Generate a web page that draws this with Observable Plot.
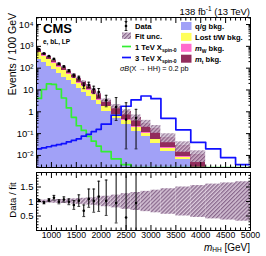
<!DOCTYPE html>
<html><head><meta charset="utf-8">
<script src="https://cdn.jsdelivr.net/npm/d3@7"></script>
<script src="https://cdn.jsdelivr.net/npm/@observablehq/plot@0.6"></script>
<style>
html,body{margin:0;padding:0;background:#fff;}
body{width:266px;height:256px;overflow:hidden;position:relative;}
#main,#ratio{position:absolute;left:0;}
#main{top:0px} #ratio{top:168px}
</style></head><body>
<svg width="0" height="0" style="position:absolute"><defs>
<pattern id="hatch" patternUnits="userSpaceOnUse" width="2.8" height="2.8" patternTransform="rotate(45)">
<rect width="2.8" height="2.8" fill="#dccadc"/>
<line x1="0.7" y1="0" x2="0.7" y2="2.8" stroke="#86658a" stroke-width="1.3"/>
</pattern></defs></svg>
<div id="main"></div><div id="ratio"></div>
<script>
// ---------------- data ----------------
const binEdges = [700,800,900,1000,1100,1200,1300,1400,1500,1600,1700,1800,1900,2000,2200,2400,2600,2800,3000,3200,3500,3800,4100,4400,4700,5000];
// backgrounds (events / 100 GeV)
const qgBkg  = [255,176,122,84,55,38,26.5,17.7,11.2,7.7,5.1,3.4,2.07,1.0,0.47,0.265,0.13,0.072,0.037,0.015,0.0062,0.0016,0,0,0];
const lostTW = [255,176,122,84,53.5,37,25.7,17.2,9.5,6.5,4.3,2.8,1.38,0.66,0.245,0.137,0.06,0.033,0.015,0.006,0.0017,0.0004,0,0,0];
const mWBkg  = [35,24.5,17,11.7,8.1,5.6,3.9,2.6,1.75,1.2,0.8,0.53,0.28,0.13,0.053,0.029,0.017,0.009,0.0034,0.0014,0.0006,0.0001,0,0,0];
const mtBkg  = [163,113,78,54,45.4,31.4,21.9,14.5,12.6,8.6,5.8,3.8,3.17,1.51,0.98,0.549,0.34,0.186,0.114,0.046,0.0195,0.0084,0,0,0];
// relative fit uncertainty
const fitUnc = [0.045,0.05,0.055,0.06,0.065,0.07,0.08,0.09,0.1,0.11,0.12,0.13,0.15,0.18,0.22,0.27,0.31,0.35,0.39,0.44,0.5,0.55,0.6,0.64,0.68];
// signals
const sig1TeV = [4.1,10.5,19,18,11,4.3,1.5,0.56,0.23,0.14,0.075,0.045,0.027,0.015,0.007,0.0038,0.0015,0.0008,0.0005,0.0003,0.0002,0.0001,0.0001,0.0001,0.0001];
const sig3TeV = [0.020,0.022,0.025,0.028,0.031,0.035,0.042,0.049,0.058,0.076,0.093,0.123,0.158,0.27,0.7,1.8,3.5,5.3,4.0,0.5,0.15,0.04,0.02,0.008,0.0038];
// data
const dataMass = [750,850,950,1050,1150,1250,1350,1450,1550,1650,1750,1850,1950,2100,2300,2500,2700];
const dataVal = [729,470,356,264,160,120,77,46,36,16,17,10.7,8.1,3.4,1.66,0.44,0.52];
const dataLo  = [701,451,339,246,149,110,69,38,29,11.5,12.8,6.8,4.7,1.7,0.4,0.02,0.02];
const dataHi  = [758,490,373,283,172,130,85,53,43,21,22.7,14.9,11.7,5.7,4.5,2.6,1.3];
// data / fit
const ratioVal = [1.03,0.96,1.05,1.13,0.99,1.07,0.99,0.88,1.03,0.68,1.09,1.02,1.17,1.02,0.95,0.45,0.95];
const ratioLo  = [0.99,0.92,1.0,1.05,0.92,0.98,0.89,0.73,0.83,0.48,0.8,0.63,0.66,0.52,0.26,0.0,0.0];
const ratioHi  = [1.07,1.0,1.1,1.21,1.06,1.16,1.09,1.03,1.23,0.88,1.43,1.43,1.7,1.74,2.5,2.5,2.5];
// ticks
const xMajor = [1000,1500,2000,2500,3000,3500,4000,4500,5000];
const xLabels = ["1000","1500","2000","2500","3000","3500","4000","4500","5000"];
const yMajor = [1e-2,1e-1,1,10,100,1000,10000];
const yLabels = ["10\u207B\u00B2","10\u207B\u00B9","1","10","10\u00B2","10\u00B3","10\u2074"];
const rMajor = [0.5,1,1.5];
const rLabels = ["0.5","1","1.5"];

// ---------------- build ----------------
const FONT = "'Liberation Sans', Arial, Helvetica, sans-serif";
const C = {qg:"#a1a1f7", tw:"#ffff5a", mw:"#ff6ccc", mt:"#922c5c", s1:"#33ee33", s3:"#1010ff"};
const yMin = 2.8e-3, yMax = 2.1e4;
const nb = binEdges.length - 1;
const bins = binEdges.slice(0, -1).map((lo, i) => {
  const a = qgBkg[i], b = a + lostTW[i], c = b + mWBkg[i], t = c + mtBkg[i];
  return {lo, hi: binEdges[i+1], qg: a, tw: b, mw: c, tot: t, u: fitUnc[i], s1: sig1TeV[i], s3: sig3TeV[i]};
});
const filled = bins.filter(d => d.tot > 0);
const layer = (y1f, y2f, fill) => Plot.rect(filled, {x1: "lo", x2: "hi", y1: y1f, y2: y2f, fill, shapeRendering: "crispEdges", clip: true});
const stepPts = key => bins.map(d => ({x: d.lo, y: Math.max(d[key], yMin)})).concat([{x: binEdges[nb], y: Math.max(bins[nb-1][key], yMin)}]);
const pts = dataMass.map((m, i) => ({m, v: dataVal[i], lo: dataLo[i], hi: dataHi[i], r: ratioVal[i], rlo: ratioLo[i], rhi: ratioHi[i]}));
const capSym = {draw(ctx, size) { ctx.moveTo(-1.4, 0); ctx.lineTo(1.4, 0); }};

const xMinor = d3.range(800, 5000, 100).filter(v => v % 500 !== 0);
const yMinor = [];
for (let e = -3; e <= 4; e++) for (let k = 2; k <= 9; k++) { const v = k * Math.pow(10, e); if (v > yMin && v < yMax) yMinor.push(v); }
const rMinor = d3.range(0.1, 2.0, 0.1).map(v => +v.toFixed(1)).filter(v => ![0.5,1,1.5].includes(v));
const blank = () => "";
const tickAxes = (xa, ya, xm, ym, maj, mnr) => [
  Plot.axisX(xa, {anchor: "bottom", tickSize: -maj, tickFormat: blank, label: null}),
  Plot.axisX(xa, {anchor: "top", tickSize: -maj, tickFormat: blank, label: null}),
  Plot.axisX(xm, {anchor: "bottom", tickSize: -mnr, tickFormat: blank, label: null}),
  Plot.axisX(xm, {anchor: "top", tickSize: -mnr, tickFormat: blank, label: null}),
  Plot.axisY(ya, {anchor: "left", tickSize: -maj, tickFormat: blank, label: null}),
  Plot.axisY(ya, {anchor: "right", tickSize: -maj, tickFormat: blank, label: null}),
  Plot.axisY(ym, {anchor: "left", tickSize: -mnr, tickFormat: blank, label: null}),
  Plot.axisY(ym, {anchor: "right", tickSize: -mnr, tickFormat: blank, label: null})
];

const main = Plot.plot({
  width: 266, height: 170, marginTop: 17, marginBottom: 3, marginLeft: 36, marginRight: 16,
  x: {domain: [700, 5000], axis: null},
  y: {type: "log", domain: [yMin, yMax], axis: null},
  style: {fontFamily: FONT, background: "transparent", color: "black"},
  marks: [
    layer(() => yMin, "qg", C.qg),
    layer("qg", "tw", C.tw),
    layer("tw", "mw", C.mw),
    layer("mw", "tot", C.mt),
    Plot.rect(filled, {x1: "lo", x2: "hi", y1: d => d.tot * (1 - d.u), y2: d => d.tot * (1 + d.u), fill: "url(#hatch)", fillOpacity: 0.85, clip: true}),
    Plot.line(stepPts("s1"), {x: "x", y: "y", curve: "step-after", stroke: C.s1, strokeWidth: 1.7, clip: true}),
    Plot.line(stepPts("s3"), {x: "x", y: "y", curve: "step-after", stroke: C.s3, strokeWidth: 1.7, clip: true}),
    Plot.ruleX(pts, {x: "m", y1: "lo", y2: "hi", stroke: "black", strokeWidth: 1, clip: true}),
    Plot.dot(pts, {x: "m", y: "lo", symbol: capSym, stroke: "black", strokeWidth: 0.8, clip: true}),
    Plot.dot(pts, {x: "m", y: "hi", symbol: capSym, stroke: "black", strokeWidth: 0.8, clip: true}),
    Plot.dot(pts, {x: "m", y: "v", r: 1.3, fill: "black", clip: true}),
    ...tickAxes(xMajor, yMajor, xMinor, yMinor, 5, 2.5),
    Plot.axisY(yMajor, {anchor: "left", tickSize: 0, tickPadding: 3, fontSize: 9.5, tickFormat: d => yLabels[yMajor.indexOf(d)], label: null}),
    Plot.frame({stroke: "black", strokeWidth: 1})
  ]
});

const ratio = Plot.plot({
  width: 266, height: 88, marginTop: 4, marginBottom: 26, marginLeft: 36, marginRight: 16,
  x: {domain: [700, 5000], axis: null},
  y: {domain: [0, 2], axis: null},
  style: {fontFamily: FONT, background: "transparent", color: "black"},
  marks: [
    Plot.rect(bins, {x1: "lo", x2: "hi", y1: d => 1 - d.u, y2: d => 1 + d.u, fill: "url(#hatch)", clip: true}),
    Plot.ruleX(pts, {x: "m", y1: "rlo", y2: "rhi", stroke: "black", strokeWidth: 1, clip: true}),
    Plot.dot(pts, {x: "m", y: "rlo", symbol: capSym, stroke: "black", strokeWidth: 0.8, clip: true}),
    Plot.dot(pts, {x: "m", y: "rhi", symbol: capSym, stroke: "black", strokeWidth: 0.8, clip: true}),
    Plot.dot(pts, {x: "m", y: "r", r: 1.3, fill: "black", clip: true}),
    ...tickAxes(xMajor, [0.5, 1, 1.5], xMinor, rMinor, 5, 2.5),
    Plot.axisY(rMajor, {anchor: "left", tickSize: 0, tickPadding: 3, fontSize: 9.5, tickFormat: d => rLabels[rMajor.indexOf(d)], label: null}),
    Plot.axisX(xMajor, {anchor: "bottom", tickSize: 0, tickPadding: 1.5, fontSize: 8.7, tickFormat: d => xLabels[xMajor.indexOf(d)], label: null}),
    Plot.frame({stroke: "black", strokeWidth: 1})
  ]
});

document.getElementById("main").appendChild(main);
document.getElementById("ratio").appendChild(ratio);

// ---------------- annotations & legend ----------------
const sm = d3.select(main).style("overflow", "visible");
const txt = (sel, x, y, opts = {}) => sel.append("text").attr("x", x).attr("y", y)
  .attr("font-family", FONT).attr("font-size", opts.size || 8).attr("font-weight", opts.weight || "normal")
  .attr("text-anchor", opts.anchor || "start").attr("fill", "black");

txt(sm, 43, 33, {size: 13, weight: "bold"}).text("CMS");
txt(sm, 43, 43.5, {size: 6.5, weight: "bold"}).text("e, bL, LP");
const lum = txt(sm, 250, 14.5, {size: 9.5, anchor: "end"});
lum.append("tspan").text("138 fb");
lum.append("tspan").attr("font-size", 6.5).attr("dy", -3.5).text("-1");
lum.append("tspan").attr("dy", 3.5).text(" (13 TeV)");
txt(sm, 0, 0, {size: 10.5, anchor: "end"}).attr("transform", "translate(16,13) rotate(-90)").text("Events / 100 GeV");

// legend column 1
const LS = 7.6, LW = "bold";
sm.append("line").attr("x1", 126).attr("x2", 126).attr("y1", 21.5).attr("y2", 30.5).attr("stroke", "black");
sm.append("line").attr("x1", 124.6).attr("x2", 127.4).attr("y1", 21.5).attr("y2", 21.5).attr("stroke", "black").attr("stroke-width", 0.8);
sm.append("line").attr("x1", 124.6).attr("x2", 127.4).attr("y1", 30.5).attr("y2", 30.5).attr("stroke", "black").attr("stroke-width", 0.8);
sm.append("circle").attr("cx", 126).attr("cy", 26).attr("r", 1.3).attr("fill", "black");
txt(sm, 135, 28.8, {size: LS, weight: LW}).text("Data");
sm.append("rect").attr("x", 122).attr("y", 32.5).attr("width", 9).attr("height", 6.5).attr("fill", "url(#hatch)");
txt(sm, 135, 39, {size: LS, weight: LW}).text("Fit unc.");
sm.append("line").attr("x1", 122).attr("x2", 131).attr("y1", 46.5).attr("y2", 46.5).attr("stroke", C.s1).attr("stroke-width", 1.7);
const l1 = txt(sm, 135, 49.5, {size: LS, weight: LW});
l1.append("tspan").text("1 TeV X");
l1.append("tspan").attr("font-size", 5).attr("dy", 2).text("spin-0");
sm.append("line").attr("x1", 122).attr("x2", 131).attr("y1", 57.5).attr("y2", 57.5).attr("stroke", C.s3).attr("stroke-width", 1.7);
const l3 = txt(sm, 135, 60.5, {size: LS, weight: LW});
l3.append("tspan").text("3 TeV X");
l3.append("tspan").attr("font-size", 5).attr("dy", 2).text("spin-0");
const sb = txt(sm, 120, 71, {size: 7.2});
sb.append("tspan").attr("font-style", "italic").text("\u03C3B");
sb.append("tspan").text("(X \u2192 HH) = 0.2 pb");

// legend column 2
const sw = [[C.qg, ["q/g bkg."]], [C.tw, ["Lost t/W bkg."]], [C.mw, ["m", "W", " bkg."]], [C.mt, ["m", "t", " bkg."]]];
sw.forEach(([col, parts], i) => {
  const yc = 26 + i * 10.9;
  sm.append("rect").attr("x", 181).attr("y", yc - 4).attr("width", 10.5).attr("height", 8).attr("fill", col);
  const t = txt(sm, 195, yc + 2.8, {size: LS, weight: LW});
  if (parts.length === 1) t.text(parts[0]);
  else {
    t.append("tspan").attr("font-style", "italic").text(parts[0]);
    t.append("tspan").attr("font-size", 5).attr("dy", 2).text(parts[1]);
    t.append("tspan").attr("dy", -2).text(parts[2]);
  }
});

// ratio panel titles
const sr = d3.select(ratio).style("overflow", "visible");
txt(sr, 0, 0, {size: 9.5, anchor: "middle"}).attr("transform", "translate(16,32) rotate(-90)").text("Data / fit");
const xt = txt(sr, 250, 82.5, {size: 10, anchor: "end"});
xt.append("tspan").attr("font-style", "italic").text("m");
xt.append("tspan").attr("font-size", 6.5).attr("dy", 1.8).text("HH");
xt.append("tspan").attr("dy", -1.8).text(" [GeV]");
</script>
</body></html>
